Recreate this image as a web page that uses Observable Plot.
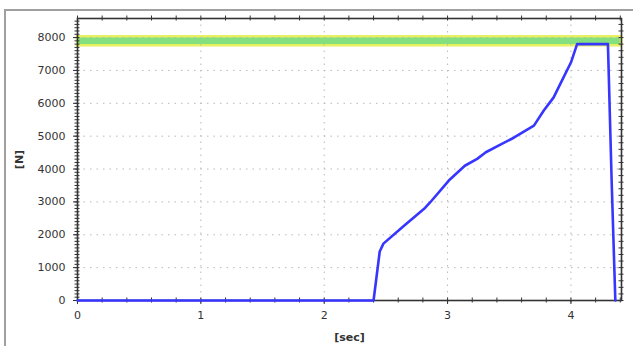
<!DOCTYPE html>
<html>
<head>
<meta charset="utf-8">
<script src="https://cdn.jsdelivr.net/npm/d3@7"></script>
<script src="https://cdn.jsdelivr.net/npm/@observablehq/plot@0.6"></script>
<style>
  html, body { margin: 0; padding: 0; background: #fff; }
  #wrap { position: relative; width: 633px; height: 346px; overflow: hidden; }
  #border { position: absolute; left: 4px; top: 9px; width: 640px; height: 400px;
            border-left: 2px solid #a0a0a0; border-top: 2px solid #a0a0a0; box-sizing: border-box; }
  #chart { position: absolute; left: 0; top: 0; }
  g[aria-label="x-axis label"] text, g[aria-label="y-axis label"] text { font-weight: bold; }
</style>
</head>
<body>
<div id="wrap"><div id="border"></div><div id="chart"></div></div>
<script>
// time [sec]
const times  = [0, 2.40, 2.45, 2.48, 2.64, 2.81, 2.86, 3.01, 3.14, 3.24, 3.31, 3.54, 3.70, 3.78, 3.86, 3.94, 4.00, 4.05, 4.30, 4.33, 4.36];
// force [N]
const forces = [0, 0, 1490, 1730, 2250, 2790, 2990, 3650, 4100, 4310, 4510, 4960, 5320, 5780, 6180, 6790, 7240, 7800, 7800, 3650, 0];
// target band [N]
const bandLow = 7750;
const bandHigh = 8025;
const xMajor = [0, 1, 2, 3, 4];
const yMajor = [0, 1000, 2000, 3000, 4000, 5000, 6000, 7000, 8000];

const data = times.map((t, i) => ({t, f: forces[i]}));
const xMinor = d3.range(0, 4.41, 0.2);
const yMinorL = d3.range(0, 8580, 100);
const yMinorR = d3.range(0, 8580, 200);

const W = 633, H = 346, ML = 77, MR = 12, MT = 18, MB = 46;
const fw = W - ML - MR, fh = H - MT - MB, t = 2.5;
const chart = Plot.plot({
  width: W,
  height: H,
  marginLeft: ML,
  marginRight: MR,
  marginTop: MT,
  marginBottom: MB,
  style: {fontFamily: "DejaVu Sans", fontSize: "11px", color: "#333", background: "transparent"},
  x: {domain: [0, 4.41]},
  y: {domain: [0, 8580]},
  marks: [
    Plot.rect([{y1: bandLow, y2: bandHigh}], {y1: "y1", y2: "y2", fill: "#84e07e", stroke: "#e6f060", strokeWidth: 2.5}),
    Plot.gridX(xMajor.slice(1), {stroke: "#b8b8b8", strokeOpacity: 1, strokeDasharray: "1.5,5"}),
    Plot.gridY(yMajor.slice(1), {stroke: "#b8b8b8", strokeOpacity: 1, strokeDasharray: "1.5,5"}),
    Plot.tickX(xMinor, {x: d => d, insetTop: fh - t, insetBottom: -t, stroke: "#333"}),
    Plot.tickX(xMinor, {x: d => d, insetTop: -t, insetBottom: fh - t, stroke: "#333"}),
    Plot.tickY(yMinorL, {y: d => d, insetLeft: -t, insetRight: fw - t, stroke: "#333"}),
    Plot.tickY(yMinorR, {y: d => d, insetLeft: fw - t, insetRight: -t, stroke: "#333"}),
    Plot.axisX(xMajor, {anchor: "bottom", tickSize: 4, tickPadding: 7, tickFormat: d => String(d), stroke: "#333",
      label: "[sec]", labelAnchor: "center", labelArrow: "none", labelOffset: 40}),
    Plot.axisY(yMajor, {anchor: "left", tickSize: 4, tickPadding: 8, tickFormat: d => String(d), stroke: "#333",
      label: "[N]", labelAnchor: "center", labelArrow: "none", labelOffset: 62}),
    Plot.frame({stroke: "#333", strokeWidth: 1.6}),
    Plot.line(data, {x: "t", y: "f", stroke: "#3636ff", strokeWidth: 2.6, strokeLinejoin: "round"})
  ]
});
document.getElementById("chart").appendChild(chart);
</script>
</body>
</html>
